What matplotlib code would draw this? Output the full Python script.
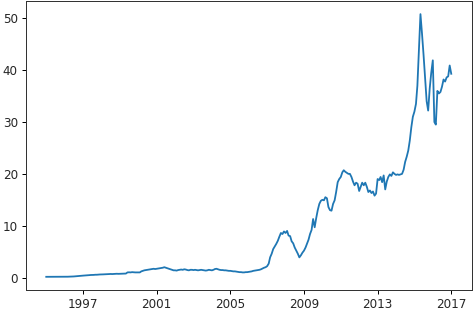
import matplotlib
matplotlib.use("Agg")
import matplotlib.pyplot as plt
import matplotlib.dates as mdates
import numpy as np
import pandas as pd

# Monthly values, Jan 1995 .. Jan 2017 (month start)
v1995 = [0.15, 0.15, 0.14, 0.14, 0.15, 0.15, 0.14, 0.15, 0.15, 0.16, 0.16, 0.15]
v1996 = [0.16, 0.17, 0.17, 0.18, 0.18, 0.20, 0.22, 0.25, 0.27, 0.30, 0.33, 0.35]
v1997 = [0.38, 0.40, 0.42, 0.45, 0.47, 0.50, 0.50, 0.52, 0.55, 0.55, 0.58, 0.60]
v1998 = [0.60, 0.62, 0.63, 0.65, 0.66, 0.68, 0.70, 0.68, 0.70, 0.72, 0.74, 0.72]
v1999 = [0.73, 0.75, 0.74, 0.76, 0.78, 1.00, 1.02, 1.00, 1.05, 1.02, 1.00, 1.00]
v2000 = [1.00, 1.00, 1.20, 1.30, 1.40, 1.45, 1.50, 1.55, 1.60, 1.65, 1.70, 1.65]
v2001 = [1.70, 1.75, 1.80, 1.85, 1.90, 2.00, 1.90, 1.80, 1.70, 1.60, 1.50, 1.40]
v2002 = [1.40, 1.35, 1.45, 1.50, 1.55, 1.50, 1.60, 1.55, 1.45, 1.40, 1.50, 1.50]
v2003 = [1.45, 1.50, 1.45, 1.40, 1.45, 1.50, 1.45, 1.40, 1.35, 1.40, 1.50, 1.45]
v2004 = [1.40, 1.50, 1.65, 1.70, 1.60, 1.50, 1.45, 1.45, 1.40, 1.40, 1.35, 1.30]
v2005 = [1.30, 1.25, 1.20, 1.20, 1.15, 1.10, 1.05, 1.05, 1.00, 1.00, 1.05, 1.05]
v2006 = [1.10, 1.15, 1.20, 1.30, 1.35, 1.40, 1.45, 1.50, 1.60, 1.75, 1.90, 2.00]
v2007 = [2.20, 2.70, 3.90, 4.60, 5.50, 6.00, 6.50, 7.10, 7.90, 8.60, 8.40, 8.90]
v2008 = [8.60, 9.00, 8.10, 8.00, 7.00, 6.60, 5.80, 5.20, 4.60, 3.90, 4.30, 4.80]
v2009 = [5.20, 5.80, 6.50, 7.30, 8.40, 9.20, 11.3, 9.70, 11.5, 13.0, 14.2, 14.8]
v2010 = [15.0, 14.9, 15.5, 15.3, 13.6, 13.0, 12.9, 14.2, 14.9, 16.5, 18.4, 19.0]
v2011 = [19.4, 20.3, 20.7, 20.4, 20.2, 20.0, 20.0, 19.4, 18.5, 17.8, 18.3, 18.1]
v2012 = [16.7, 17.5, 18.3, 17.8, 18.3, 17.5, 16.5, 16.8, 16.3, 16.6, 15.8, 16.2]
v2013 = [19.0, 18.8, 19.4, 18.4, 19.7, 17.0, 18.5, 19.4, 19.9, 19.6, 20.3, 20.0]
v2014 = [19.8, 19.9, 19.8, 19.9, 20.0, 20.8, 22.3, 23.3, 24.5, 26.4, 29.0, 31.0]
v2015 = [32.0, 33.5, 37.0, 44.0, 50.8, 47.0, 43.0, 38.5, 34.0, 32.2, 36.5, 39.5]
v2016 = [41.9, 30.0, 29.5, 36.0, 35.5, 35.8, 36.8, 38.2, 37.8, 38.6, 38.8, 40.9]
v2017 = [39.3]

values = (v1995 + v1996 + v1997 + v1998 + v1999 + v2000 + v2001 + v2002 + v2003
          + v2004 + v2005 + v2006 + v2007 + v2008 + v2009 + v2010 + v2011 + v2012
          + v2013 + v2014 + v2015 + v2016 + v2017)
dates = pd.date_range("1995-01-01", periods=len(values), freq="MS")

tick_years = [1997, 2001, 2005, 2009, 2013, 2017]
ytick_values = [0, 10, 20, 30, 40, 50]

fig = plt.figure(figsize=(473 / 72, 310 / 72), dpi=72)
ax = fig.add_axes([26 / 473, 20 / 310, 445.5 / 473, 289 / 310])
ax.plot(dates, values, color="#1f77b4", linewidth=1.8)

ax.set_xticks([pd.Timestamp(f"{y}-01-01") for y in tick_years])
ax.xaxis.set_major_formatter(mdates.DateFormatter("%Y"))
ax.set_yticks(ytick_values)
ax.tick_params(labelsize=12, length=4.2, width=1.0, pad=4.0, labelcolor="#262626")
for s in ax.spines.values():
    s.set_linewidth(1.0)
    s.set_color("#333333")

fig.savefig("out.png", dpi=72)
